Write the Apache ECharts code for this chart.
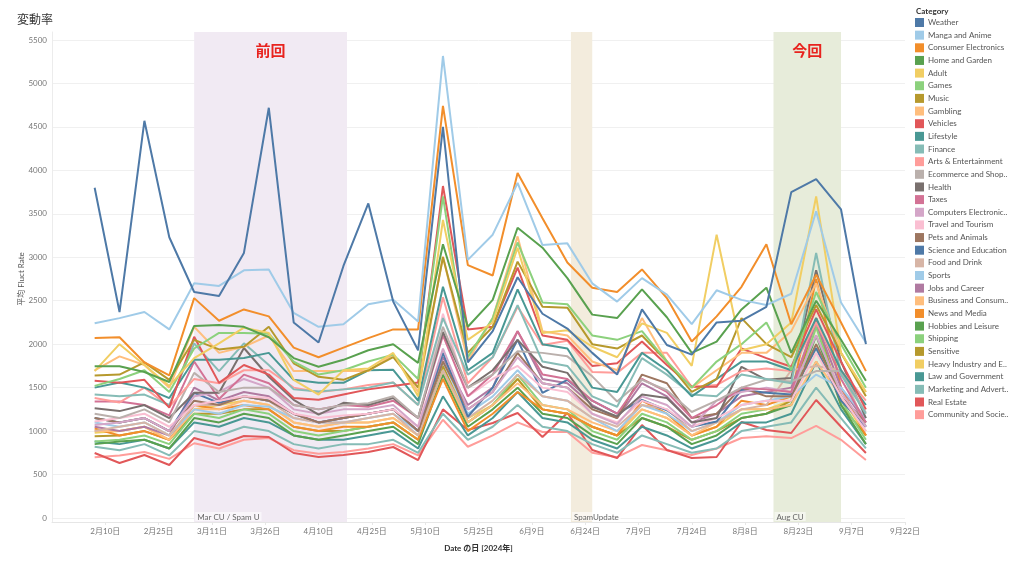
<!DOCTYPE html>
<html><head><meta charset="utf-8">
<script src="https://cdn.jsdelivr.net/npm/echarts@6/dist/echarts.min.js"></script>
<style>html,body{margin:0;padding:0;background:#fff}#c{width:1024px;height:561px}</style>
</head><body><div id="c"></div>
<script>
const dates = ['2024-02-07','2024-02-14','2024-02-21','2024-02-28','2024-03-06','2024-03-13','2024-03-20','2024-03-27',
  '2024-04-03','2024-04-10','2024-04-17','2024-04-24','2024-05-01','2024-05-08','2024-05-15','2024-05-22','2024-05-29',
  '2024-06-05','2024-06-12','2024-06-19','2024-06-26','2024-07-03','2024-07-10','2024-07-17','2024-07-24','2024-07-31',
  '2024-08-07','2024-08-14','2024-08-21','2024-08-28','2024-09-04','2024-09-11'];
const categories = ['Weather','Manga and Anime','Consumer Electronics','Home and Garden','Adult','Games','Music','Gambling',
  'Vehicles','Lifestyle','Finance','Arts & Entertainment','Ecommerce and Shopping','Health','Taxes',
  'Computers Electronics and Technology','Travel and Tourism','Pets and Animals','Science and Education','Food and Drink',
  'Sports','Jobs and Career','Business and Consumer Services','News and Media','Hobbies and Leisure','Shipping','Sensitive',
  'Heavy Industry and Engineering','Law and Government','Marketing and Advertising','Real Estate','Community and Society'];
const yTicks = [0,500,1000,1500,2000,2500,3000,3500,4000,4500,5000,5500];

const weather = [3800,2370,4570,3230,2600,2555,3050,4720,2250,2020,2900,3620,2490,1930,4500,1790,2150,2770,2350,2180,1900,1650,2400,1990,1880,2250,2270,2430,3750,3900,3550,2000];
const manga = [2240,2300,2370,2170,2700,2670,2850,2860,2360,2200,2230,2460,2510,2260,5316,2970,3260,3855,3140,3160,2700,2490,2760,2570,2230,2620,2510,2450,2580,3530,2480,2020];
const consumerElectronics = [2070,2080,1790,1640,2530,2270,2400,2320,1960,1850,1960,2070,2170,2170,4741,2910,2790,3970,3450,2940,2650,2600,2860,2530,2030,2320,2660,3150,2230,2800,2250,1690];
const homeGarden = [1745,1745,1680,1565,2210,2220,2200,2080,1840,1740,1820,1930,2000,1785,3150,2200,2510,3340,3110,2760,2340,2300,2630,2310,1900,2030,2400,2650,1900,2500,2050,1580];
const adult = [1690,2000,1760,1520,1840,2010,2190,2130,1590,1420,1700,1720,1900,1400,3430,2050,2250,3110,2130,2160,1970,1850,2240,2130,1750,3260,1930,2000,2250,3700,1900,1450];
const games = [1520,1600,1700,1450,1950,2130,2130,2120,1800,1650,1700,1800,1880,1600,3700,1850,2300,3170,2480,2460,2100,2050,2150,1800,1500,1800,2000,2250,1700,2600,2000,1500];
const music = [1640,1650,1790,1590,2050,1940,1970,2200,1780,1625,1590,1700,1850,1500,3000,1900,2200,2950,2430,2420,2000,1950,2100,1800,1450,1600,2300,2000,1850,2450,1900,1400];
const gambling = [1700,1860,1760,1500,2200,1900,1970,2100,1690,1690,1690,1690,1880,1450,3010,1800,2300,3240,2150,2100,1800,1700,2300,1800,1500,1700,1900,1900,2150,2700,1900,1450];
const vehicles = [1580,1555,1590,1270,2085,1555,1760,1650,1380,1360,1420,1480,1520,1560,3820,2170,2200,2880,2100,2050,1750,1780,2030,1760,1510,1510,1950,1840,1740,2400,1800,1250];
const lifestyle = [1500,1560,1500,1380,1820,1820,1840,1900,1590,1555,1555,1700,1705,1350,2660,1700,1900,2630,2000,1950,1500,1450,1900,1700,1400,1600,1800,1800,1700,2300,1700,1300];
const finance = [1420,1400,1420,1300,2010,1690,2010,1760,1480,1455,1480,1500,1560,1300,2300,1650,1850,2450,1800,1750,1400,1280,1840,1650,1420,1400,1650,1600,1550,3050,1650,1200];
const arts = [1380,1330,1500,1280,1600,1550,1700,1700,1500,1450,1480,1530,1560,1300,2540,1550,1850,2430,1990,2040,1680,1670,1900,1900,1510,1530,1690,1720,1690,2250,1700,1350];
const ecommerce = [1200,1150,1250,1100,1670,1450,1500,1500,1300,1250,1300,1320,1400,1150,2200,1500,1650,1920,1900,1860,1630,1340,1590,1470,1220,1350,1500,1590,1570,1690,1690,1210];
const health = [1263,1230,1300,1150,1440,1440,1956,1625,1360,1190,1325,1300,1380,1150,2140,1500,1700,2050,1740,1670,1280,1170,1420,1380,1100,1150,1740,1590,1610,2850,1800,1150];
const taxes = [1340,1340,1300,1180,1800,1370,1650,1550,1300,1250,1300,1280,1350,1150,2100,1400,1650,2150,1650,1600,1350,1200,1600,1450,1150,1300,1500,1480,1450,2300,1600,1100];
const computers = [1070,1100,1150,1000,1400,1450,1600,1500,1250,1200,1250,1250,1300,1050,1950,1250,1450,1850,1550,1500,1200,1080,1400,1300,1050,1350,1450,1500,1450,2100,1450,1050];
const travel = [1110,1150,1200,1050,1300,1350,1400,1380,1200,1150,1180,1200,1250,1050,2350,1400,1600,1750,1500,1450,1200,1100,1350,1250,1050,1150,1300,1350,1350,1900,1400,1000];
const pets = [1150,1100,1150,1000,1350,1300,1400,1350,1200,1100,1150,1200,1250,1000,1800,1250,1450,1900,1550,1500,1250,1150,1650,1550,1150,1200,1500,1400,1400,2000,1400,1100];
const science = [1150,1100,1150,1000,1440,1325,1400,1350,1200,1100,1150,1200,1250,1000,1900,1165,1500,2050,1440,1590,1350,1200,1360,1240,1050,1110,1475,1440,1420,1955,1350,1050];
const food = [1000,1050,1100,950,1300,1300,1400,1350,1150,1100,1100,1150,1200,950,1700,1150,1350,1650,1400,1350,1150,1050,1300,1250,1000,1100,1250,1300,1700,1750,1700,1050];
const sports = [1100,1050,1100,950,1250,1200,1300,1280,1150,1100,1100,1150,1200,1000,1800,1200,1400,1700,1400,1350,1150,1000,1300,1200,1000,1100,1300,1350,1400,1650,1500,1150];
const jobs = [1050,1000,1050,950,1500,1350,1450,1400,1200,1100,1150,1200,1250,1000,1850,1300,1500,2150,1600,1550,1300,1150,1550,1400,1100,1200,1400,1450,1500,2250,1500,1100];
const business = [1000,1000,1050,900,1250,1250,1350,1300,1100,1050,1100,1100,1150,950,1700,1100,1300,1550,1300,1250,1100,1000,1250,1150,950,1100,1250,1250,1300,1800,1400,1000];
const news = [1030,950,1000,900,1300,1250,1300,1250,1050,1000,1050,1050,1100,900,1600,1000,1200,1450,1250,1200,1050,950,1350,1200,950,1050,1350,1300,1400,2750,1500,950];
const hobbies = [850,880,900,800,1150,1100,1200,1150,950,900,950,1000,1050,850,1650,1050,1250,1500,1200,1150,950,850,1150,1050,850,950,1150,1200,1300,2100,1300,850];
const shipping = [880,900,950,850,1200,1150,1250,1200,1000,950,1000,1050,1100,900,1700,1100,1300,1650,1300,1250,1000,900,1200,1100,900,1000,1200,1250,1300,2200,1350,900];
const sensitive = [940,950,1000,900,1200,1200,1250,1250,1050,1000,1000,1050,1100,900,1750,1100,1300,1600,1250,1200,1050,950,1150,1050,900,1000,1150,1200,1350,2300,1300,950];
const heavyIndustry = [980,1000,1050,900,1250,1300,1350,1300,1100,1050,1100,1100,1150,950,1750,1150,1300,1600,1250,1200,1050,950,1250,1150,950,1050,1250,1250,1350,2200,1400,950];
const law = [880,850,900,800,1100,1050,1150,1100,950,900,900,950,1000,800,1400,950,1150,1450,1150,1100,900,800,1050,950,800,900,1100,1100,1200,1800,1250,850];
const marketing = [820,780,850,720,1000,950,1050,1000,850,800,850,850,900,750,1200,900,1050,1300,1050,1000,850,750,950,850,750,800,1000,1050,1100,1500,1150,800];
const realEstate = [748,633,725,610,920,840,944,932,748,702,725,760,817,667,1250,1013,1093,1208,932,1208,783,690,1070,783,690,702,1105,1013,978,1358,1050,748];
const community = [700,720,760,680,860,800,900,920,780,740,760,800,850,720,1130,820,950,1100,990,990,750,700,840,780,725,800,920,940,920,1060,900,667];

const bands = [
  {name:'Mar CU / Spam U', start:'2024-03-06', end:'2024-04-18', tag:'前回'},
  {name:'SpamUpdate', start:'2024-06-20', end:'2024-06-26', tag:''},
  {name:'Aug CU', start:'2024-08-16', end:'2024-09-04', tag:'今回'}
];

const values = [weather,manga,consumerElectronics,homeGarden,adult,games,music,gambling,vehicles,lifestyle,finance,arts,
  ecommerce,health,taxes,computers,travel,pets,science,food,sports,jobs,business,news,hobbies,shipping,sensitive,
  heavyIndustry,law,marketing,realEstate,community];

const palette = ['#4E79A7','#A0CBE8','#F28E2B','#59A14F','#F1CE63','#8CD17D','#B6992D','#FFBE7D','#E15759','#499894',
  '#86BCB6','#FF9D9A','#BAB0AC','#79706E','#D37295','#D4A6C8','#FABFD2','#9D7660','#4E79A7','#D7B5A6','#A0CBE8',
  '#B07AA1','#FFBE7D','#F28E2B','#59A14F','#8CD17D','#B6992D','#F1CE63','#499894','#86BCB6','#E15759','#FF9D9A'];
const bandColors = ['#f1eaf3','#f3ecdd','#e7ecda'];

const BASE = Date.UTC(2024,0,26);
function dayOf(s){const p=s.split('-').map(Number);return Math.round((Date.UTC(p[0],p[1]-1,p[2])-BASE)/86400000);}
function fmtDay(v){const d=new Date(BASE+v*86400000);return (d.getUTCMonth()+1)+'月'+d.getUTCDate()+'日';}

const FONT = 'Lato, "Noto Sans CJK JP", sans-serif';
const xs = dates.map(dayOf);

const lineSeries = categories.map((name,k)=>({
  name, type:'line', xAxisIndex:0, yAxisIndex:0, symbol:'none', z:3,
  color: palette[k], lineStyle:{width:2, color: palette[k]},
  data: xs.map((x,i)=>[x, values[k][i]])
})).reverse();

const option = {
  animation:false,
  textStyle:{fontFamily:FONT},
  title:[
    {text:'変動率', left:12, top:9, textStyle:{fontSize:12, fontWeight:'normal', color:'#333', fontFamily:FONT}},
    {text:'Category', left:911, top:2, textStyle:{fontSize:8, fontWeight:'bold', color:'#333', fontFamily:FONT}}
  ],
  legend:{
    data:categories, orient:'vertical', left:910, top:13, itemWidth:9, itemHeight:9, itemGap:3.65,
    icon:'rect', selectedMode:false,
    textStyle:{fontSize:8, color:'#555', fontFamily:FONT, width:82, overflow:'truncate', ellipsis:'..', padding:[0,0,0,-1]}
  },
  grid:[
    {left:52, right:119, top:40, bottom:43},
    {left:52, right:119, top:32, bottom:39}
  ],
  xAxis:[
    {type:'value', gridIndex:0, min:0, max:240, interval:15, show:false},
    {type:'value', gridIndex:1, min:0, max:240, interval:15,
     name:'Date の日 [2024年]', nameLocation:'middle', nameGap:22, nameMoveOverlap:false,
     nameTextStyle:{fontSize:8, color:'#333', fontWeight:'bold', fontFamily:FONT},
     axisLine:{show:true, lineStyle:{color:'#e6e6e6'}},
     axisTick:{show:true, length:3, lineStyle:{color:'#e6e6e6'}},
     splitLine:{show:false},
     axisLabel:{showMinLabel:false, fontSize:8, color:'#777', margin:5, formatter:fmtDay, fontFamily:FONT}}
  ],
  yAxis:[
    {type:'value', gridIndex:0, min:yTicks[0], max:yTicks[yTicks.length-1], interval:500,
     name:'平均 Fluct Rate', nameLocation:'middle', nameGap:27, nameMoveOverlap:false,
     nameTextStyle:{fontSize:8, color:'#555', fontFamily:FONT},
     axisLine:{show:false}, axisTick:{show:false},
     splitLine:{show:true, lineStyle:{color:'#f0f0f0'}},
     axisLabel:{fontSize:8, color:'#777', margin:5, fontFamily:FONT, formatter:v=>String(v)}},
    {type:'value', gridIndex:1, min:0, max:1, axisLabel:{show:false}, axisTick:{show:false}, splitLine:{show:false},
     axisLine:{show:true, lineStyle:{color:'#ececec'}}}
  ],
  series:[
    {type:'line', xAxisIndex:1, yAxisIndex:1, data:[], silent:true, z:1,
     markArea:{silent:true, data: bands.map((b,i)=>[
       {xAxis:dayOf(b.start), itemStyle:{color:bandColors[i]},
        label:{show:true, position:'insideBottomLeft', distance:1, formatter:b.name, fontSize:8, color:'#666',
               backgroundColor:'rgba(255,255,255,0.55)', padding:[1,2,0,2], fontFamily:FONT}},
       {xAxis:dayOf(b.end)}])}},
    {type:'line', xAxisIndex:1, yAxisIndex:1, data:[], silent:true, z:1,
     markArea:{silent:true, data: bands.filter(b=>b.tag).map(b=>[
       {xAxis:dayOf(b.start), itemStyle:{color:'rgba(0,0,0,0)'},
        label:{show:true, position:'insideTop', distance:11, formatter:b.tag, fontSize:15, fontWeight:'bold',
               color:'#e8231e', fontFamily:'"Noto Sans CJK JP", sans-serif'}},
       {xAxis:dayOf(b.end)}])}}
  ].concat(lineSeries)
};
echarts.init(document.getElementById('c'),null,{renderer:'canvas'}).setOption(option);
</script></body></html>
